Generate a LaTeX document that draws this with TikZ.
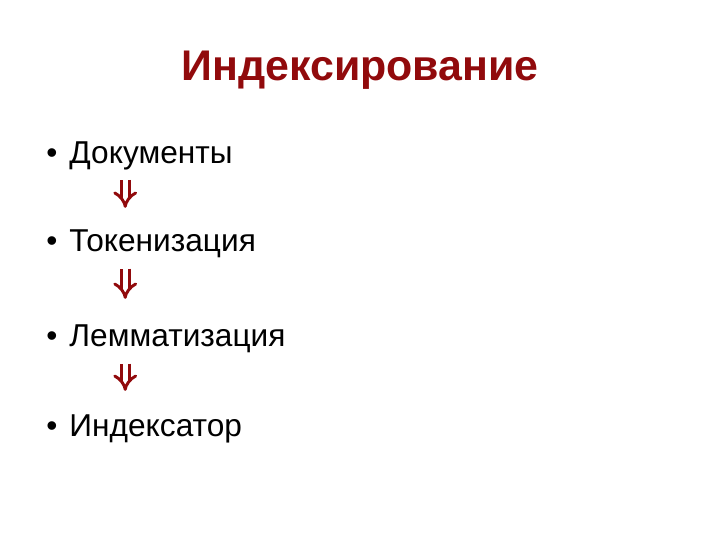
\documentclass[tikz,border=0pt]{standalone}
\usepackage{fontspec}
\setmainfont{Liberation Sans}
\usetikzlibrary{arrows.meta,positioning}
\definecolor{darkred}{RGB}{145,10,12}

\begin{document}
\begin{tikzpicture}[x=0.025cm,y=-0.025cm,
      item/.style={anchor=base west,inner sep=0pt,
        font=\fontsize{22.5}{27}\selectfont},
      flow/.style={draw=darkred,double,double distance=3.5pt,
        line width=2.1pt,-{Implies[]}}]

    \useasboundingbox (0,0) rectangle (720,540);

    \node[anchor=base,inner sep=0pt,font=\bfseries\fontsize{30.5}{36}\selectfont,text=darkred]
      (title) at (360,80) {Индексирование};

    \node[item] (doc) at (46,163) {\makebox[16.5pt][l]{•}Документы};
    \node[item] (tok) [below=2.22cm of doc.base west,anchor=base west] {\makebox[16.5pt][l]{•}Токенизация};
    \node[item] (lem) [below=2.375cm of tok.base west,anchor=base west] {\makebox[16.5pt][l]{•}Лемматизация};
    \node[item] (idx) [below=2.25cm of lem.base west,anchor=base west] {\makebox[16.5pt][l]{•}Индексатор};

    \draw[flow] ([xshift=1.98cm,yshift=-0.42cm]doc.base west) -- ([xshift=1.98cm,yshift=1.1cm]tok.base west);
    \draw[flow] ([xshift=1.98cm,yshift=-0.42cm]tok.base west) -- ([xshift=1.98cm,yshift=1.2cm]lem.base west);
    \draw[flow] ([xshift=1.98cm,yshift=-0.42cm]lem.base west) -- ([xshift=1.98cm,yshift=1.15cm]idx.base west);
  \end{tikzpicture}
\end{document}
